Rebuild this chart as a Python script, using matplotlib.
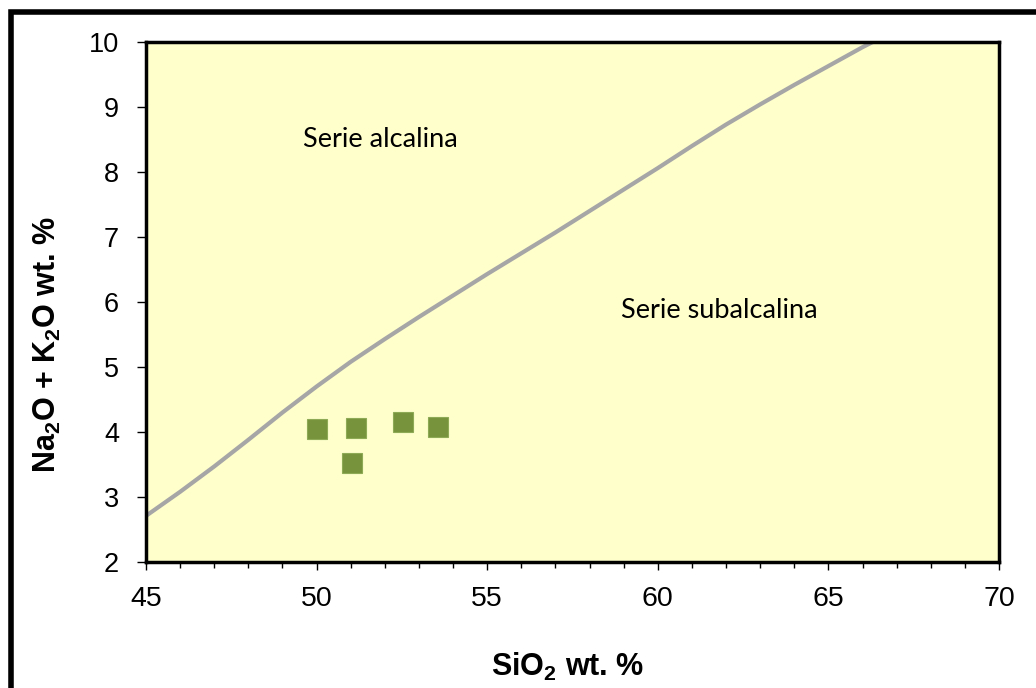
import matplotlib
matplotlib.use("Agg")
import matplotlib.pyplot as plt
from matplotlib.patches import Rectangle
from matplotlib.ticker import MultipleLocator

plt.rcParams["font.family"] = ["Liberation Sans", "DejaVu Sans"]
plt.rcParams["mathtext.fontset"] = "custom"
plt.rcParams["mathtext.rm"] = "Liberation Sans"
plt.rcParams["mathtext.bf"] = "Liberation Sans:bold"

# alkaline / subalkaline boundary
boundary_sio2 = [45, 46, 47, 48, 49, 50, 51, 52, 53, 54, 55, 56, 57, 58, 59, 60,
                 61, 62, 63, 64, 65, 66, 66.3]
boundary_alk = [2.71, 3.08, 3.47, 3.88, 4.30, 4.70, 5.08, 5.43, 5.77, 6.10, 6.43,
                6.75, 7.07, 7.40, 7.73, 8.06, 8.40, 8.73, 9.04, 9.34, 9.63, 9.92,
                10.0]

# samples
sample_sio2 = [50.0, 51.15, 51.03, 52.54, 53.57]
sample_alk = [4.04, 4.06, 3.52, 4.16, 4.08]

fig = plt.figure(figsize=(10.36, 6.88), dpi=100)
ax = fig.add_axes([146 / 1036, 1 - 562 / 688, 853 / 1036, 520 / 688])
ax.set_facecolor("#FFFFCC")

ax.plot(boundary_sio2, boundary_alk, color="#A6A6A6", lw=3,
        solid_capstyle="butt", solid_joinstyle="round")
ax.plot(sample_sio2, sample_alk, ls="none", marker="s", markersize=14,
        color="#77933C", markeredgecolor="#8FAA55", markeredgewidth=0.8)

ax.text(51.86, 8.39, "Serie alcalina", family=["Lato", "DejaVu Sans"],
        fontsize=19.5, ha="center", va="baseline")
ax.text(61.81, 5.75, "Serie subalcalina", family=["Lato", "DejaVu Sans"],
        fontsize=19.5, ha="center", va="baseline")

ax.set_xlim(45, 70)
ax.set_ylim(2, 10)
ax.xaxis.set_major_locator(MultipleLocator(5))
ax.xaxis.set_minor_locator(MultipleLocator(1))
ax.yaxis.set_major_locator(MultipleLocator(1))
ax.tick_params(axis="x", which="major", length=6, width=1, labelsize=20.5, pad=11)
ax.tick_params(axis="x", which="minor", length=4, width=1)
ax.tick_params(axis="y", which="major", length=6.5, width=1, labelsize=19.5, pad=13)
for side in ["left", "right", "top", "bottom"]:
    ax.spines[side].set_linewidth(2.5)

fig.text(568 / 1036, 1 - 667 / 688, r"SiO$_\mathbf{2}$ wt. %", fontsize=22,
         fontweight="bold", ha="center", va="center")
fig.text(47 / 1036, 1 - 345 / 688, r"Na$_\mathbf{2}$O + K$_\mathbf{2}$O wt. %",
         fontsize=22, fontweight="bold", ha="center", va="center", rotation=90)

# outer frame, running off the right and bottom edges
fig.patches.append(Rectangle((11 / 1036, -0.2), 2, 1.2 - 12 / 688, fill=False,
                             edgecolor="black", linewidth=4,
                             transform=fig.transFigure, figure=fig))

fig.savefig("out.png", dpi=100)
